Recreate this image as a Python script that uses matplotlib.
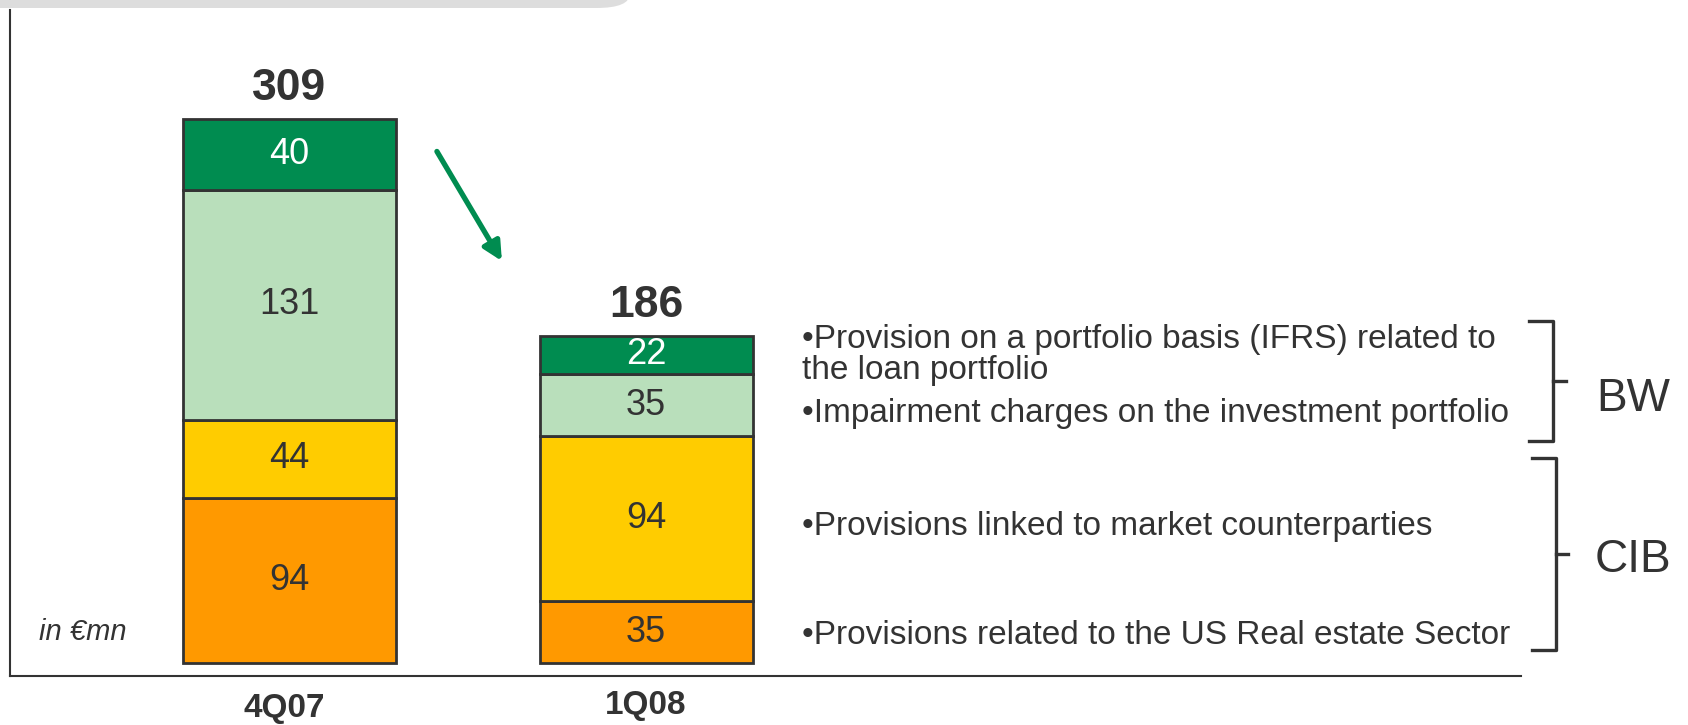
import matplotlib
matplotlib.use("Agg")
import matplotlib.pyplot as plt
from matplotlib.patches import FancyBboxPatch
from matplotlib.lines import Line2D
import matplotlib.transforms as mtransforms
import numpy as np

periods = ["4Q07", "1Q08"]
us_real_estate = [94, 35]
market_counterparties = [44, 94]
impairment = [131, 35]
portfolio_basis = [40, 22]
totals = [309, 186]

segments = [us_real_estate, market_counterparties, impairment, portfolio_basis]
seg_colors = ["#FF9900", "#FFCC00", "#B9DFBB", "#008C50"]
seg_text = ["#333333", "#333333", "#333333", "#FFFFFF"]

notes = [
    "•Provision on a portfolio basis (IFRS) related to\nthe loan portfolio",
    "•Impairment charges on the investment portfolio",
    "•Provisions linked to market counterparties",
    "•Provisions related to the US Real estate Sector",
]
note_y = [355, 413, 526, 635]
groups = ["BW", "CIB"]
group_y = [399, 560]

FONT = ["Liberation Sans", "DejaVu Sans"]
DARK = "#333333"

W, H = 1688, 725
fig = plt.figure(figsize=(W / 100, H / 100), dpi=100)


def fx(px):
    return px / W


def fy(py):
    return 1 - py / H


# grey tab at the top
fig.patches.append(FancyBboxPatch((fx(-40), fy(8)), fx(670), fy(-40) - fy(8),
                                  boxstyle="round,pad=0,rounding_size=0.02",
                                  transform=fig.transFigure, facecolor="#DDDDDD",
                                  edgecolor="none", zorder=0))

ax = fig.add_axes([fx(10), fy(676), fx(1521) - fx(10), fy(10) - fy(676)])
ax.set_facecolor("none")

x = np.arange(len(periods))
bottom = np.zeros(len(periods))
for vals, col, tcol in zip(segments, seg_colors, seg_text):
    ax.bar(x, vals, bottom=bottom, width=0.597, color=col, edgecolor=DARK, linewidth=2, zorder=2)
    for xi, b, v in zip(x, bottom, vals):
        ax.text(xi, b + v / 2, str(v), ha="center", va="center", fontsize=26,
                color=tcol, family=FONT, zorder=3)
    bottom += vals

for xi, t in zip(x, totals):
    ax.annotate(str(t), (xi, t), xytext=(0, 22), textcoords="offset points",
                ha="center", va="center", fontsize=32, fontweight="bold",
                color=DARK, family=FONT)

ax.annotate("", xy=(0.60, 227), xytext=(0.41, 292),
            arrowprops=dict(arrowstyle="-|>", color="#008C50", lw=3.8, mutation_scale=28))

ax.set_xlim(-0.782, 3.451)
ax.set_ylim(-7.4, 371)
ax.set_xticks(x)
ax.set_xticklabels(periods, fontsize=24, fontweight="bold", color=DARK, family=FONT)
ax.tick_params(axis="x", length=0, pad=10)
# first category label sits a little lower than the second one
lab = ax.get_xticklabels()[0]
lab.set_transform(lab.get_transform() + mtransforms.ScaledTranslation(-5 / 100, -3 / 100, fig.dpi_scale_trans))
ax.set_yticks([])
for s in ["top", "right"]:
    ax.spines[s].set_visible(False)
for s in ["left", "bottom"]:
    ax.spines[s].set_color(DARK)
    ax.spines[s].set_linewidth(1.5)

fig.text(fx(83), fy(632), "in €mn", ha="center", va="center", fontsize=21,
         style="italic", color=DARK, family=FONT)

for txt, yy in zip(notes, note_y):
    fig.text(fx(802), fy(yy), txt, ha="left", va="center", fontsize=24,
             color=DARK, family=FONT, linespacing=1.0)

# brackets
brackets = [(1529, 1553, 321, 441, 1566), (1532, 1556, 458, 650, 1568)]
for (x0, x1, y0, y1, xt), g, gy in zip(brackets, groups, group_y):
    fig.add_artist(Line2D([fx(x0), fx(x1), fx(x1), fx(x0)], [fy(y0), fy(y0), fy(y1), fy(y1)],
                          color=DARK, lw=2.4, transform=fig.transFigure))
    ym = (y0 + y1) / 2
    fig.add_artist(Line2D([fx(x1), fx(xt)], [fy(ym), fy(ym)], color=DARK, lw=2.4,
                          transform=fig.transFigure))
    fig.text(fx(1633), fy(gy), g, ha="center", va="center", fontsize=33,
             color=DARK, family=FONT)

fig.savefig("out.png", dpi=100)
